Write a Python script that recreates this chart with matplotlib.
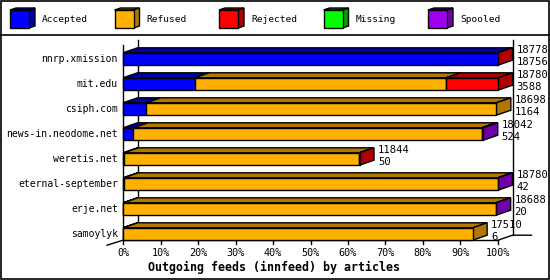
import matplotlib
matplotlib.use('Agg')
import matplotlib.pyplot as plt
from matplotlib.patches import Polygon, Rectangle

# Data
feeds = ['nnrp.xmission', 'mit.edu', 'csiph.com', 'news-in.neodome.net',
         'weretis.net', 'eternal-september', 'erje.net', 'samoylyk']
offered = [18778, 18780, 18698, 18042, 11844, 18780, 18688, 17510]
accepted = [18756, 3588, 1164, 524, 50, 42, 20, 6]
refused = [0, 12580, 17534, 17430, 11784, 18730, 18660, 17504]
rejected = [22, 2612, 0, 0, 10, 0, 0, 0]
missing = [0, 0, 0, 0, 0, 0, 0, 0]
spooled = [0, 0, 0, 88, 0, 8, 8, 0]

series_names = ['Accepted', 'Refused', 'Rejected', 'Missing', 'Spooled']
front_colors = ['#0000ff', '#ffb000', '#ff0000', '#00ff00', '#a000f0']
dark_colors = ['#0000a8', '#b07800', '#b00000', '#00a000', '#7000a8']
x_ticks = [0, 10, 20, 30, 40, 50, 60, 70, 80, 90, 100]

W, H = 550, 280
fig = plt.figure(figsize=(W / 100, H / 100), dpi=100)
mono = 'DejaVu Sans Mono'

# overlay in pixel coordinates for legend and frame
ov = fig.add_axes([0, 0, 1, 1])
ov.set_xlim(0, W)
ov.set_ylim(H, 0)
ov.axis('off')
ov.add_patch(Rectangle((0.5, 0.5), W - 1.5, H - 1.5, fill=False, lw=1.2, ec='black'))
ov.plot([0, W], [35, 35], color='black', lw=1.2)

for k, name in enumerate(series_names):
    x0 = 10 + 104.5 * k
    fx, fy, fw, fh, ddx, ddy = x0, 10, 19, 18, 6, 2
    ov.add_patch(Polygon([(fx, fy), (fx + fw, fy), (fx + fw + ddx, fy - ddy), (fx + ddx, fy - ddy)],
                         closed=True, fc=dark_colors[k], ec='black', lw=1))
    ov.add_patch(Polygon([(fx + fw, fy), (fx + fw + ddx, fy - ddy), (fx + fw + ddx, fy + fh - ddy), (fx + fw, fy + fh)],
                         closed=True, fc=dark_colors[k], ec='black', lw=1))
    ov.add_patch(Rectangle((fx, fy), fw, fh, fc=front_colors[k], ec='black', lw=1))
    ov.text(x0 + 32, 20, name, family=mono, fontsize=6.8, va='center', ha='left')

# main chart axes: x in percent, y in category index
px_left, px_right, px_top, px_bot = 123, 498, 40, 245
ax = fig.add_axes([px_left / W, (H - px_bot) / H, (px_right - px_left) / W, (px_bot - px_top) / H])
ax.set_xlim(0, 100)
top_idx = (px_top - 59) / 25
bot_idx = (px_bot - 59) / 25
ax.set_ylim(bot_idx, top_idx)
ax.axis('off')

ppx = 100 / (px_right - px_left)  # percent per pixel
dx = 14.5 * ppx
dy = 5 / 25
h = 12.4 / 25
n = len(feeds)
base = n - 1 + h / 2
lw = 1.0

# back wall and axes lines
ax.plot([dx, dx], [top_idx, base - dy], color='black', lw=lw, clip_on=False, zorder=1)
ax.plot([100 + dx, 100 + dx], [top_idx, base - dy], color='black', lw=lw, clip_on=False, zorder=1)
ax.plot([0, 0], [top_idx + 0.2, base], color='black', lw=lw, clip_on=False, zorder=1)
ax.plot([-16 * ppx, 0], [base + dy, base], color='black', lw=lw, clip_on=False, zorder=1)
ax.plot([0, 100], [base, base], color='black', lw=lw, clip_on=False, zorder=1)
ax.plot([100, 100 + dx, 100 + dx + 19 * ppx], [base, base - dy, base - dy], color='black', lw=lw,
        clip_on=False, zorder=1)
for t in x_ticks:
    ax.plot([t, t], [base, base + 4 / 25], color='black', lw=lw, clip_on=False, zorder=1)

total_max = max(offered)
series = [accepted, refused, rejected, missing, spooled]
for i in range(n):
    y_top = i - h / 2
    left = 0.0
    segs = []
    for k, vals in enumerate(series):
        if vals[i] > 0:
            w = vals[i] / total_max * 100
            segs.append((left, left + w, k))
            left += w
    for (a, b, k) in segs:
        ax.add_patch(Polygon([(a, y_top), (b, y_top), (b + dx, y_top - dy), (a + dx, y_top - dy)],
                             closed=True, fc=dark_colors[k], ec='black', lw=lw, clip_on=False, zorder=3))
        ax.add_patch(Rectangle((a, y_top), b - a, h, fc=front_colors[k], ec='black', lw=lw,
                               clip_on=False, zorder=4))
    a, b, k = segs[-1]
    ax.add_patch(Polygon([(b, y_top), (b + dx, y_top - dy), (b + dx, y_top + h - dy), (b, y_top + h)],
                         closed=True, fc=dark_colors[k], ec='black', lw=lw, clip_on=False, zorder=3))
    end = offered[i] / total_max * 100
    ax.text(end + dx + 4 * ppx, i - 0.36, str(offered[i]), family=mono, fontsize=7.6,
            va='center', ha='left', clip_on=False, zorder=5)
    ax.text(end + dx + 4 * ppx, i + 0.12, str(accepted[i]), family=mono, fontsize=7.6,
            va='center', ha='left', clip_on=False, zorder=5)
    ax.text(-5 * ppx, i, feeds[i], family=mono, fontsize=7.0, va='center', ha='right', clip_on=False)

for t in x_ticks:
    ax.text(t, base + 12.5 / 25, f'{t}%', family=mono, fontsize=7.3, va='center', ha='center', clip_on=False)

ov.text(274, 267, 'Outgoing feeds (innfeed) by articles', family=mono, fontsize=8.4,
        fontweight='bold', va='center', ha='center')

fig.savefig('out.png', dpi=100)
